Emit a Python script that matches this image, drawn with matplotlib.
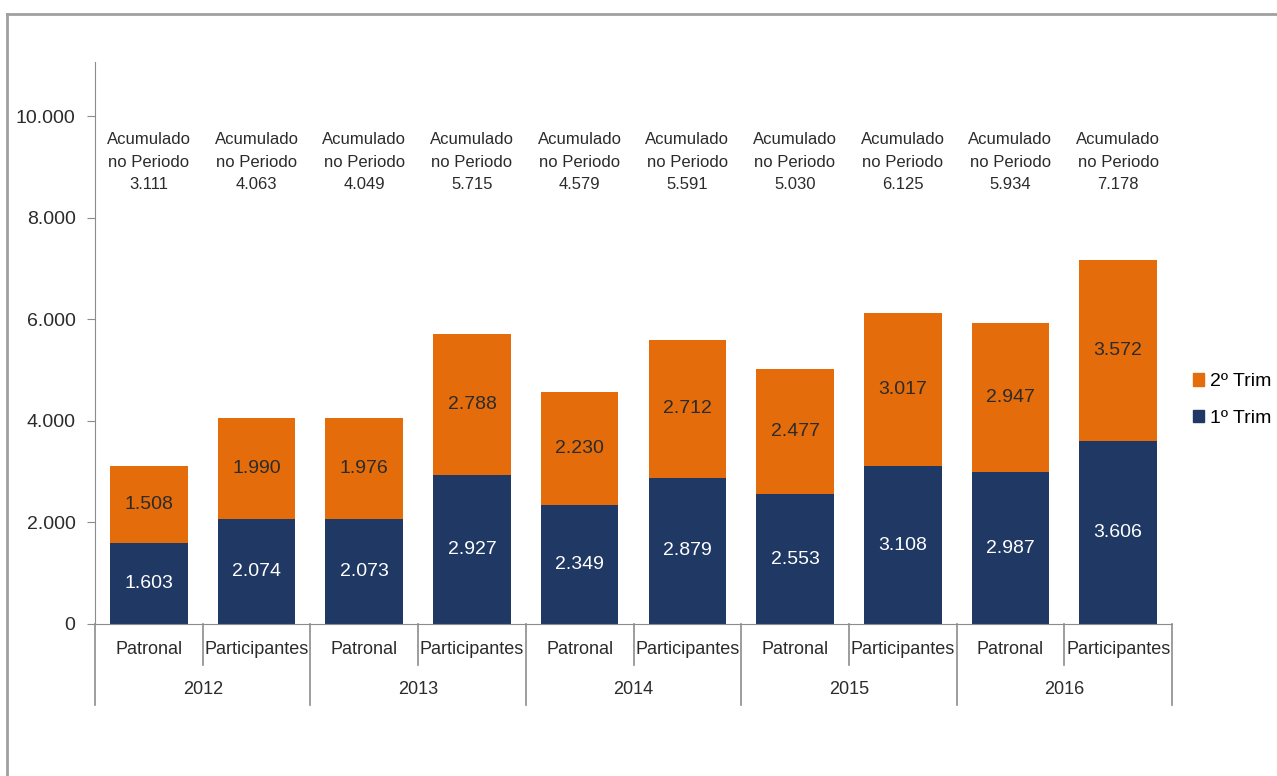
import matplotlib
matplotlib.use("Agg")
import matplotlib.pyplot as plt
from matplotlib.lines import Line2D
from matplotlib.patches import Patch
import numpy as np

plt.rcParams['font.family'] = ['Liberation Sans', 'DejaVu Sans']

# data
years = ["2012", "2013", "2014", "2015", "2016"]
groups = ["Patronal", "Participantes"]
trim1 = [1603, 2074, 2073, 2927, 2349, 2879, 2553, 3108, 2987, 3606]
trim2 = [1508, 1990, 1976, 2788, 2230, 2712, 2477, 3017, 2947, 3572]
acumulado = [3111, 4063, 4049, 5715, 4579, 5591, 5030, 6125, 5934, 7178]
series_names = ["1º Trim", "2º Trim"]

ORANGE = "#E46C0A"
NAVY = "#1F3864"
GRAY = "#8C8C8C"
TXT = "#2B2B2B"


def fmt(v):
    return f"{v:,}".replace(",", ".")


fig = plt.figure(figsize=(12.77, 7.76), dpi=100)
# outer frame of the original image
fig.add_artist(Line2D([7 / 1277, 7 / 1277], [0, 1 - 14 / 776], transform=fig.transFigure, color="#A0A0A0", lw=2))
fig.add_artist(Line2D([7 / 1277, 1], [1 - 14 / 776, 1 - 14 / 776], transform=fig.transFigure, color="#A0A0A0", lw=2))

ax = fig.add_axes([95 / 1277, 1 - 624 / 776, (1172 - 95) / 1277, (624 - 62) / 776])

n = len(trim1)
x = np.arange(n)
ax.bar(x, trim1, width=0.72, color=NAVY, zorder=2)
ax.bar(x, trim2, width=0.72, bottom=trim1, color=ORANGE, zorder=2)

for i in range(n):
    ax.text(x[i], trim1[i] / 2, fmt(trim1[i]), ha="center", va="center", color="white", fontsize=14)
    ax.text(x[i], trim1[i] + trim2[i] / 2, fmt(trim2[i]), ha="center", va="center", color=TXT, fontsize=14)
    ax.text(x[i], 9100, "Acumulado\nno Periodo\n" + fmt(acumulado[i]), ha="center", va="center",
            color=TXT, fontsize=12, linespacing=1.6)

ax.set_xlim(-0.5, n - 0.5)
ax.set_ylim(0, 11070)
ax.set_yticks(range(0, 10001, 2000))
ax.set_yticklabels([fmt(v) for v in range(0, 10001, 2000)], fontsize=14, color=TXT)
ax.set_xticks([])
ax.tick_params(axis="y", length=6, color=GRAY, pad=8)

for s in ["top", "right"]:
    ax.spines[s].set_visible(False)
ax.spines["left"].set_color(GRAY)
ax.spines["bottom"].set_color(GRAY)

# two-level category axis
trans = ax.get_xaxis_transform()
for b in range(n + 1):
    low = -0.144 if b % 2 == 0 else -0.073
    ax.plot([b - 0.5, b - 0.5], [0, low], transform=trans, color=GRAY, lw=1.2, clip_on=False)
for i in range(n):
    ax.text(x[i], -0.046, groups[i % 2], transform=trans, ha="center", va="center", fontsize=13, color=TXT)
for j, yr in enumerate(years):
    ax.text(2 * j + 0.5, -0.117, yr, transform=trans, ha="center", va="center", fontsize=13, color=TXT)

handles = [Patch(color=ORANGE, label=series_names[1]), Patch(color=NAVY, label=series_names[0])]
fig.legend(handles=handles, loc="center left", bbox_to_anchor=(1175 / 1277, 1 - 400 / 776),
           frameon=False, fontsize=14, handlelength=0.6, handleheight=0.6, handletextpad=0.3,
           labelspacing=1.0)

fig.savefig("out.png", dpi=100)
